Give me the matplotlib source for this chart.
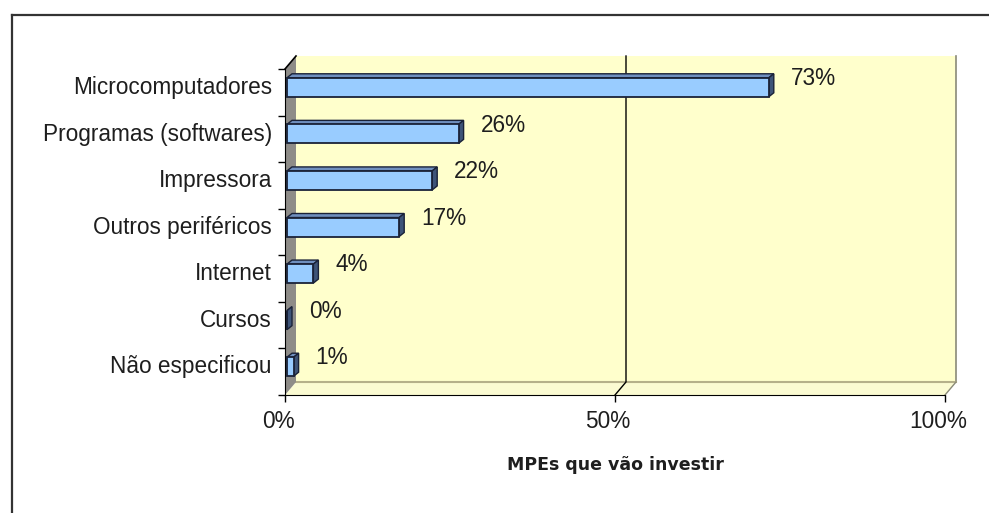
import matplotlib
matplotlib.use("Agg")
import matplotlib.pyplot as plt
from matplotlib.patches import Rectangle, Polygon
from matplotlib.lines import Line2D
from matplotlib.transforms import ScaledTranslation

plt.rcParams['font.family'] = ['Liberation Sans', 'DejaVu Sans']

# dados
categorias = ['Microcomputadores', 'Programas (softwares)', 'Impressora',
              'Outros periféricos', 'Internet', 'Cursos', 'Não especificou']
valores = [73, 26, 22, 17, 4, 0, 1]
xticks = [0, 50, 100]
xtick_labels = ['0%', '50%', '100%']
titulo_x = 'MPEs que vão investir'

# cores
cor_parede = '#FFFFCC'
cor_chao = '#FBFBD2'
cor_lado = '#8E8C88'
cor_barra = '#99CCFF'
cor_barra_lado = '#3E5478'
cor_barra_topo = '#6F8FBF'
cor_borda = '#1A2238'
cor_texto = '#1E1E1E'
fs = 16.3

W, H = 989, 513
fig = plt.figure(figsize=(W / 100, H / 100), dpi=100)
fig.patch.set_facecolor('white')

# plano frontal do grafico em pixels: x 285..945, y 69..395
ax = fig.add_axes([285 / W, (H - 395) / H, 660 / W, 326 / H])
ax.set_xlim(0, 100)
ax.set_ylim(len(categorias) - 0.5, -0.5)
ax.patch.set_visible(False)

px_x = 100 / 660.0
px_y = len(categorias) / 326.0
DX = 11 * px_x      # profundidade 3D
DY = -13 * px_y
y0, y1 = -0.5, len(categorias) - 0.5

# parede do fundo
ax.add_patch(Rectangle((DX, y0 + DY), 100, y1 - y0, facecolor=cor_parede,
                       edgecolor='none', zorder=0, clip_on=False))
ax.plot([100 + DX, 100 + DX], [y0 + DY, y1 + DY], color='#8A8A78', lw=1.2,
        zorder=1, clip_on=False)
# chao
ax.add_patch(Polygon([(0, y1), (100, y1), (100 + DX, y1 + DY), (DX, y1 + DY)],
                     closed=True, facecolor=cor_chao, edgecolor='none',
                     zorder=0.5, clip_on=False))
ax.plot([DX, 100 + DX], [y1 + DY, y1 + DY], color='#B5B08A', lw=1.5,
        zorder=1, clip_on=False)
ax.plot([100, 100 + DX], [y1, y1 + DY], color='#8A8A78', lw=1.0,
        zorder=1, clip_on=False)
# parede lateral
ax.add_patch(Polygon([(0, y1), (0, y0), (DX, y0 + DY), (DX, y1 + DY)],
                     closed=True, facecolor=cor_lado, edgecolor='none',
                     zorder=1, clip_on=False))
ax.plot([0, DX], [y0, y0 + DY], color='black', lw=1.2, zorder=5, clip_on=False)

# linha de grade em 50%
ax.plot([50 + DX, 50 + DX, 50], [y0 + DY, y1 + DY, y1], color='black', lw=1.0,
        zorder=1.5, clip_on=False)

# barras 3D
BX = 2 * px_x
BY = -5 * px_y
bh = 19 * px_y
bdx = 5 * px_x
bdy = -4 * px_y
for i, v in enumerate(valores):
    yc = i + BY
    xa, xb = BX, BX + v
    ya, yb = yc - bh / 2, yc + bh / 2
    topo = [(xa, ya), (xb, ya), (xb + bdx, ya + bdy), (xa + bdx, ya + bdy)]
    lado = [(xb, ya), (xb, yb), (xb + bdx, yb + bdy), (xb + bdx, ya + bdy)]
    ax.add_patch(Polygon(topo, closed=True, facecolor=cor_barra_topo,
                         edgecolor=cor_borda, lw=1.0, zorder=3, clip_on=False))
    ax.add_patch(Polygon(lado, closed=True, facecolor=cor_barra_lado,
                         edgecolor=cor_borda, lw=1.0, zorder=3, clip_on=False))
    ax.add_patch(Rectangle((xa, ya), v, bh, facecolor=cor_barra,
                           edgecolor=cor_borda, lw=1.3, zorder=4, clip_on=False))
    ax.text(xb + 3.3, yc - 0.19, f'{v}%', ha='left', va='center',
            fontsize=fs, color=cor_texto, zorder=6)

# eixos
for s in ['top', 'right']:
    ax.spines[s].set_visible(False)
ax.spines['left'].set_color('black')
ax.spines['bottom'].set_color('black')
ax.spines['left'].set_zorder(5)
ax.spines['bottom'].set_zorder(5)

ax.set_xticks(xticks)
ax.set_xticklabels(xtick_labels, fontsize=fs, color=cor_texto)
ax.tick_params(axis='x', direction='out', length=5, width=1, pad=6)
desloc = ScaledTranslation(-7 / 100, 0, fig.dpi_scale_trans)
for lab in ax.get_xticklabels():
    lab.set_transform(lab.get_transform() + desloc)

ax.set_yticks([k + 0.5 for k in range(-1, len(categorias))])
ax.set_yticklabels([])
ax.tick_params(axis='y', which='major', direction='out', length=5, width=1)
ax.set_yticks([k + BY - 0.05 for k in range(len(categorias))], minor=True)
ax.set_yticklabels(categorias, minor=True, fontsize=fs, color=cor_texto)
ax.tick_params(axis='y', which='minor', length=0, pad=9.5)

ax.set_xlabel(titulo_x, fontsize=12.5, fontweight='bold', color=cor_texto,
              family='DejaVu Sans', va='center')
ax.xaxis.set_label_coords(0.5, -(465 - 395) / 326.0)

# moldura externa
fig.add_artist(Line2D([12 / W, 12 / W], [0, 1 - 15 / H], transform=fig.transFigure,
                      color='#333333', lw=1.6))
fig.add_artist(Line2D([12 / W, 1], [1 - 15 / H, 1 - 15 / H], transform=fig.transFigure,
                      color='#333333', lw=1.6))

fig.savefig('out.png', dpi=100)
